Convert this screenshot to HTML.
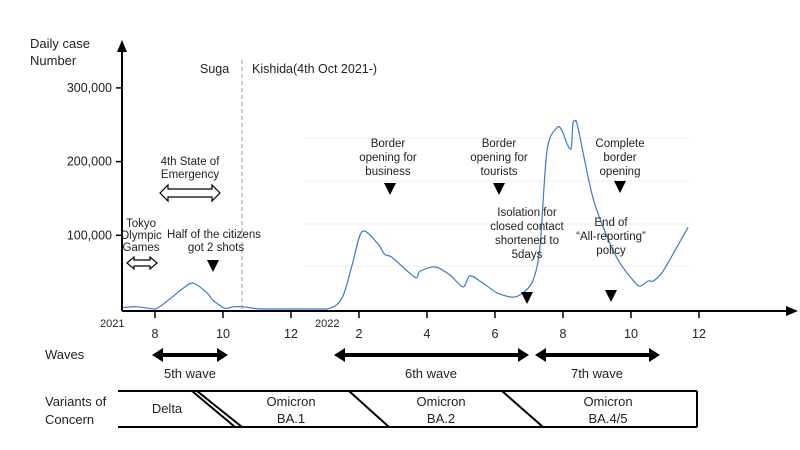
<!DOCTYPE html>
<html><head><meta charset="utf-8"><style>
body{margin:0;background:#fff;}
svg{display:block;font-family:"Liberation Sans",Arial,sans-serif;}
text{fill:#222;}
</style></head><body>
<svg id="chart" width="800" height="450" viewBox="0 0 800 450" xmlns="http://www.w3.org/2000/svg">
<g id="grid"></g>
<g id="axes">
<line x1="122" y1="311" x2="122" y2="50" stroke="#000" stroke-width="2"/>
<path d="M117,52 L122,40 L127,52 Z" fill="#000"/>
<line x1="122" y1="311" x2="790" y2="311" stroke="#000" stroke-width="2"/>
<path d="M786,306 L798,311 L786,316 Z" fill="#000"/>
</g>
<text x="30" y="48" font-size="13">Daily case</text>
<text x="30" y="65" font-size="13">Number</text>
<g id="yticks"></g>
<g id="xticks"></g>
<text x="100" y="327" font-size="11">2021</text>
<text x="315" y="327" font-size="11">2022</text>
<line x1="242" y1="60" x2="242" y2="311" stroke="#999" stroke-dasharray="4,3"/>
<text x="200" y="73" font-size="12.5">Suga</text>
<text x="252" y="73" font-size="12.5">Kishida(4th Oct 2021-)</text>
<path id="series" fill="none" stroke="#3a7cc9" stroke-width="1.2"/>
<g font-size="11.5" text-anchor="middle">
<text x="190" y="165">4th State of</text>
<text x="190" y="178">Emergency</text>
<path d="M160,193 L168,185 L168,189 L212,189 L212,185 L220,193 L212,201 L212,197 L168,197 L168,201 Z" fill="#fff" stroke="#000" stroke-width="1.2"/>
<text x="141" y="227">Tokyo</text>
<text x="141" y="239">Olympic</text>
<text x="141" y="251">Games</text>
<path d="M127,263 L134,257 L134,260 L150,260 L150,257 L157,263 L150,269 L150,266 L134,266 L134,269 Z" fill="#fff" stroke="#000" stroke-width="1.2"/>
<text x="214" y="238">Half of the citizens</text>
<text x="216" y="251">got 2 shots</text>
<path d="M207,260 L219,260 L213,272 Z" fill="#000"/>
<text x="388" y="147">Border</text>
<text x="388" y="161">opening for</text>
<text x="388" y="175">business</text>
<path d="M384,183 L396,183 L390,195 Z" fill="#000"/>
<text x="499" y="147">Border</text>
<text x="499" y="161">opening for</text>
<text x="499" y="175">tourists</text>
<path d="M493,183 L505,183 L499,195 Z" fill="#000"/>
<text x="620" y="147">Complete</text>
<text x="620" y="161">border</text>
<text x="620" y="175">opening</text>
<path d="M614,181 L626,181 L620,193 Z" fill="#000"/>
<text x="527" y="216">Isolation for</text>
<text x="527" y="230">closed contact</text>
<text x="527" y="244">shortened to</text>
<text x="527" y="258">5days</text>
<path d="M521,292 L533,292 L527,304 Z" fill="#000"/>
<text x="611" y="226">End of</text>
<text x="611" y="240">“All-reporting”</text>
<text x="611" y="254">policy</text>
<path d="M605,290 L617,290 L611,302 Z" fill="#000"/>
</g>
<text x="45" y="359" font-size="13">Waves</text>
<g stroke="#000" stroke-width="4">
<line x1="160" y1="355" x2="220" y2="355"/><path d="M152,355 L163,348 L163,362 Z M228,355 L217,348 L217,362 Z" fill="#000" stroke="none"/>
<line x1="342" y1="355" x2="521" y2="355"/><path d="M334,355 L345,348 L345,362 Z M529,355 L518,348 L518,362 Z" fill="#000" stroke="none"/>
<line x1="543" y1="355" x2="652" y2="355"/><path d="M535,355 L546,348 L546,362 Z M660,355 L649,348 L649,362 Z" fill="#000" stroke="none"/>
</g>
<g font-size="13" text-anchor="middle">
<text x="190" y="378">5th wave</text>
<text x="431" y="378">6th wave</text>
<text x="597" y="378">7th wave</text>
</g>
<text x="45" y="406" font-size="13">Variants of</text>
<text x="45" y="424" font-size="13">Concern</text>
<g stroke="#000" stroke-width="2" fill="none">
<line x1="118" y1="391" x2="697" y2="391"/>
<line x1="118" y1="427" x2="697" y2="427"/>
<line x1="697" y1="391" x2="697" y2="427"/>
<line x1="192" y1="391" x2="235" y2="427"/>
<line x1="197" y1="391" x2="242" y2="427"/>
<line x1="349" y1="391" x2="389" y2="427"/>
<line x1="502" y1="391" x2="543" y2="427"/>
</g>
<g font-size="13" text-anchor="middle">
<text x="167" y="413">Delta</text>
<text x="291" y="406">Omicron</text><text x="291" y="423">BA.1</text>
<text x="441" y="406">Omicron</text><text x="441" y="423">BA.2</text>
<text x="608" y="406">Omicron</text><text x="608" y="423">BA.4/5</text>
</g>
</svg>
<script>
// month index: 0 = Jul 2021
const months = [0.06,0.47,1,1.5,1.82,2.12,2.53,2.7,3.06,3.3,3.6,4.1,5,6.06,6.5,6.8,7.09,7.53,7.76,7.97,8.65,8.79,9.24,9.68,10.06,10.26,10.62,11.06,11.53,11.82,12.12,12.32,12.53,12.82,12.97,13.12,13.24,13.29,13.35,13.44,13.88,14.38,14.68,15.06,15.26,15.5,15.65,15.91,16.35,16.68];
const cases = [2,3,0,16,28,35,22,12,1,3,3,0,0,0,15,60,105,90,74,70,43,51,57,46,30,45,36,22,16,22,39,84,215,246,242,224,218,251,255,246,151,89,62,39,31,38,38,49,84,111];
const yTickValues = [100000,200000,300000];
const yTickLabels = ["100,000","200,000","300,000"];
const xTickMonths = [1,3,5,7,9,11,13,15,17];
const xTickLabels = ["8","10","12","2","4","6","8","10","12"];
const xs = m => 155 + (m - 1) * 34;
const ys = v => 309 - v * 0.000737;
const NS = "http://www.w3.org/2000/svg";
const pts = months.map((m,i)=>[xs(m), ys(cases[i]*1000)]);
let d = "M" + pts[0][0].toFixed(1) + "," + pts[0][1].toFixed(1);
const tn = 0.15;
for (let i=0;i<pts.length-1;i++){
  const p0 = pts[Math.max(i-1,0)], p1 = pts[i], p2 = pts[i+1], p3 = pts[Math.min(i+2,pts.length-1)];
  const c1x = p1[0] + (p2[0]-p0[0])*tn, c1y = p1[1] + (p2[1]-p0[1])*tn;
  const c2x = p2[0] - (p3[0]-p1[0])*tn, c2y = p2[1] - (p3[1]-p1[1])*tn;
  d += "C" + c1x.toFixed(1)+","+Math.min(c1y,309).toFixed(1)+" "+c2x.toFixed(1)+","+Math.min(c2y,309).toFixed(1)+" "+p2[0].toFixed(1)+","+p2[1].toFixed(1);
}
document.getElementById('series').setAttribute('d', d);
const yt = document.getElementById('yticks');
yTickValues.forEach((v,i)=>{
  const l = document.createElementNS(NS,'line');
  l.setAttribute('x1',116); l.setAttribute('x2',122); l.setAttribute('y1',ys(v)); l.setAttribute('y2',ys(v));
  l.setAttribute('stroke','#000'); l.setAttribute('stroke-width','1.5');
  
  
  yt.appendChild(l);
  const t = document.createElementNS(NS,'text');
  t.setAttribute('x',112); t.setAttribute('y',ys(v)+4); t.setAttribute('text-anchor','end'); t.setAttribute('font-size','12.5');
  t.textContent = yTickLabels[i];
  
  
  yt.appendChild(t);
});
const xt = document.getElementById('xticks');
xTickMonths.forEach((m,i)=>{
  const l = document.createElementNS(NS,'line');
  l.setAttribute('x1',xs(m)); l.setAttribute('x2',xs(m)); l.setAttribute('y1',311); l.setAttribute('y2',318);
  l.setAttribute('stroke','#000'); l.setAttribute('stroke-width','1.5');
  
  
  xt.appendChild(l);
  const t = document.createElementNS(NS,'text');
  t.setAttribute('x',xs(m)); t.setAttribute('y',338); t.setAttribute('text-anchor','middle'); t.setAttribute('font-size','12.5');
  t.textContent = xTickLabels[i];
  
  
  xt.appendChild(t);
});
const g = document.getElementById('grid');
[138,181,224,266].forEach(y=>{
  const l = document.createElementNS(NS,'line');
  l.setAttribute('x1',305); l.setAttribute('x2',690); l.setAttribute('y1',y); l.setAttribute('y2',y);
  l.setAttribute('stroke','#eee');
  
  
  g.appendChild(l);
});
</script>
</body></html>
